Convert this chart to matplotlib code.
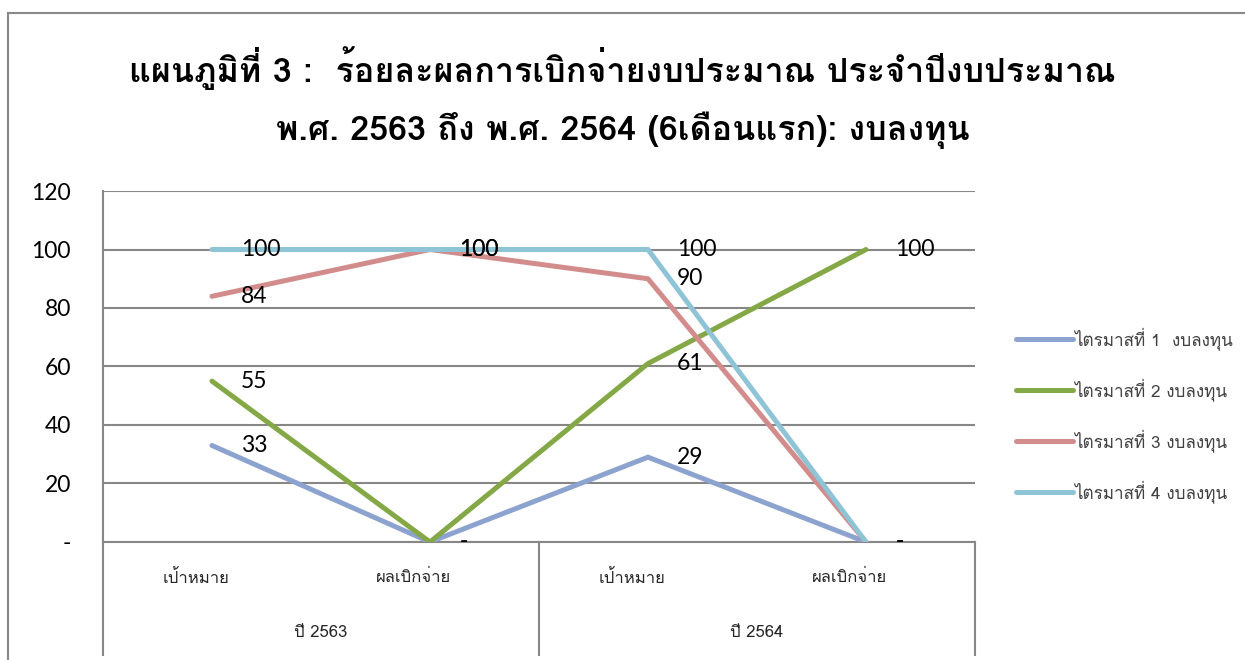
import matplotlib
matplotlib.use("Agg")
import matplotlib.pyplot as plt
import matplotlib.transforms as mtransforms
from matplotlib import font_manager
from matplotlib.ft2font import FT2Font

# шрифт с тайскими глифами (ищем среди установленных)
def find_thai_font():
    for f in font_manager.fontManager.ttflist:
        try:
            if 0x0E01 in FT2Font(f.fname).get_charmap():
                return f.name
        except Exception:
            pass
    return "DejaVu Sans"

thai = find_thai_font()
print("thai font:", thai)

# данные
categories = ["เป้าหมาย", "ผลเบิกจ่าย", "เป้าหมาย", "ผลเบิกจ่าย"]
groups = ["ปี 2563", "ปี 2564"]
series_names = ["ไตรมาสที่ 1  งบลงทุน", "ไตรมาสที่ 2 งบลงทุน",
                "ไตรมาสที่ 3 งบลงทุน", "ไตรมาสที่ 4 งบลงทุน"]
q1 = [33, 0, 29, 0]
q2 = [55, 0, 61, 100]
q3 = [84, 100, 90, 0]
q4 = [100, 100, 100, 0]
colors = ["#8DA3CF", "#85A846", "#D28C8C", "#8FC3D6"]
yticks = [0, 20, 40, 60, 80, 100, 120]
title1 = "แผนภูมิที่ 3 :  ร้อยละผลการเบิกจ่ายงบประมาณ ประจำปีงบประมาณ"
title2 = "พ.ศ. 2563 ถึง พ.ศ. 2564 (6เดือนแรก): งบลงทุน"

num_font = ["Lato", "DejaVu Sans"]
fams = [thai, "DejaVu Sans"]

fig = plt.figure(figsize=(12.45, 6.6), dpi=100)
ax = fig.add_axes([0.0827, 0.1788, 0.7004, 0.5318])

x = list(range(len(categories)))
for vals, name, c in zip([q1, q2, q3, q4], series_names, colors):
    ax.plot(x, vals, color=c, lw=3.6, label=name, solid_capstyle="round",
            solid_joinstyle="miter", zorder=3)
    # подписи значений справа от точек, 0 -> "-"
    for xi, v in zip(x, vals):
        ax.annotate("-" if v == 0 else str(v), (xi, v), xytext=(21, 0),
                    textcoords="offset points", ha="left", va="center",
                    fontsize=16.5, family=num_font, zorder=4)

ax.set_xlim(-0.5, 3.5)
ax.set_ylim(0, 120)
ax.set_yticks(yticks)
ax.set_yticklabels(["-" if t == 0 else str(t) for t in yticks],
                   fontsize=16.5, family=num_font)
ax.tick_params(axis="y", length=0, pad=23)
ax.set_xticks([])
ax.grid(axis="y", color="#878787", lw=1.5)
for s in ["top", "right"]:
    ax.spines[s].set_visible(False)
for s in ["left", "bottom"]:
    ax.spines[s].set_color("#878787")
    ax.spines[s].set_linewidth(1.5)

# двухуровневая ось категорий
tr = mtransforms.blended_transform_factory(ax.transData, ax.transAxes)
for xi, cat in zip(x, categories):
    ax.text(xi - 0.075, -0.103, cat, transform=tr, ha="center", va="center",
            fontsize=12, family=fams, color="#262626")
for gi, g in enumerate(groups):
    ax.text(gi * 2 + 0.5, -0.259, g, transform=tr, ha="center", va="center",
            fontsize=12, family=fams, color="#262626")
for xv in [-0.5, 1.5, 3.5]:
    ax.plot([xv, xv], [0, -0.322], transform=tr, color="#878787", lw=1.5,
            clip_on=False)

fig.legend(loc="center left", bbox_to_anchor=(0.804, 0.371), frameon=False,
           prop={"family": fams, "size": 12.3}, handlelength=3.3,
           labelspacing=1.65, handletextpad=0.1, labelcolor="#404040")

fig.text(0.5, 1 - 68 / 660, title1, ha="center", va="center", fontsize=24.5,
         fontweight="bold", family=fams)
fig.text(0.5, 1 - 130 / 660, title2, ha="center", va="center", fontsize=24.5,
         fontweight="bold", family=fams)

# рамка диаграммы
fig.add_artist(plt.Line2D([8 / 1245, 1], [1 - 13 / 660, 1 - 13 / 660],
                          color="#888888", lw=1.5))
fig.add_artist(plt.Line2D([8 / 1245, 8 / 1245], [0, 1 - 13 / 660],
                          color="#888888", lw=1.5))

fig.savefig("out.png", dpi=100)
